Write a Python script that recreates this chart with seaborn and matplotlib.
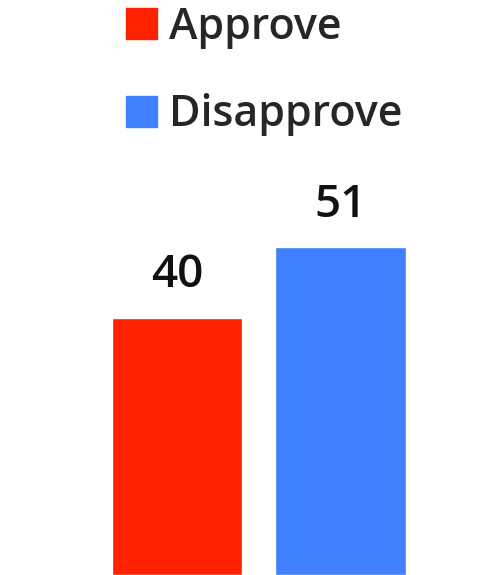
import matplotlib.pyplot as plt
import seaborn as sns

# Данные
categories = ['Approve', 'Disapprove']
values = [40, 51]
colors = ['#FF2200', '#4080FF']

sns.set_style('white')
plt.rcParams['font.family'] = ['Open Sans', 'DejaVu Sans']

fig = plt.figure(figsize=(4.88, 5.75), dpi=100)
ax = fig.add_axes([0, 0, 1, 1])

sns.barplot(x=categories, y=values, hue=categories, palette=colors,
            width=0.8, legend=False, ax=ax, saturation=1)

for cont in ax.containers:
    ax.bar_label(cont, padding=14, fontsize=33, fontweight='semibold', color='#111111')

ax.set_xlim(-1.083, 1.902)
ax.set_ylim(0, 89.4)
ax.axis('off')

# Легенда
handles = [plt.Rectangle((0, 0), 1, 1, color=c) for c in colors]
ax.legend(handles, categories, loc='upper left', bbox_to_anchor=(126 / 488, 1 - 6 / 575),
          frameon=False, prop={'size': 31, 'weight': 'semibold'},
          handlelength=0.73, handleheight=0.73,
          handletextpad=0.28, labelspacing=1.03, borderpad=0, borderaxespad=0)

fig.savefig('out.png', dpi=100)
